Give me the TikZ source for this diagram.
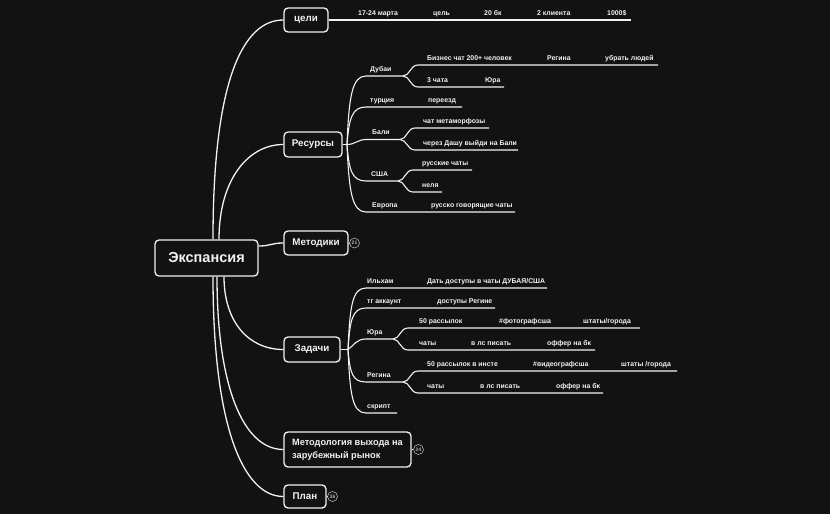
\documentclass[tikz,border=0pt]{standalone}
\usepackage{fontspec}
\setmainfont{Liberation Sans}
\definecolor{bgc}{HTML}{121212}
\definecolor{fg}{HTML}{F2F2F2}
\definecolor{cgray}{HTML}{B0B0B0}
\begin{document}
\begin{tikzpicture}[x=1pt,y=-1pt,
  topic/.style={draw=fg, line width=1.3pt, rounded corners=4pt, fill=bgc, text=fg, inner sep=0pt,
    font=\fontsize{9.8}{12}\selectfont\bfseries},
  lbl/.style={anchor=base west, inner sep=0pt, text=fg, font=\fontsize{6.9}{8}\selectfont\bfseries},
  edge/.style={draw=fg, line width=1.3pt},
  sub/.style={draw=fg, line width=1.1pt},
  badge/.style={circle, draw=cgray, line width=0.6pt, minimum size=10pt, inner sep=0pt, text=cgray,
    font=\fontsize{5}{5}\selectfont\bfseries}]
\fill[bgc] (0,0) rectangle (830,514);
\useasboundingbox (0,0) rectangle (830,514);

% main topics
\node[topic, minimum width=103pt, minimum height=36pt, font=\fontsize{14.5}{16}\selectfont\bfseries] (E) at (206.5,258) {Экспансия};
\node[topic, minimum width=44pt, minimum height=24pt] (G) at (306,20) {цели};
\node[topic, minimum width=58pt, minimum height=25pt] (R) at (313,144.5) {Ресурсы};
\node[topic, minimum width=64pt, minimum height=24pt] (M) at (316,243) {Методики};
\node[topic, minimum width=56pt, minimum height=25pt] (Z) at (312,349.5) {Задачи};
\node[topic, minimum width=127pt, minimum height=35pt, align=left,
  font=\fontsize{9.2}{13}\selectfont\bfseries] (MV) at (347.5,449.5) {Методология выхода на\\зарубежный рынок};
\node[topic, minimum width=42pt, minimum height=23pt] (P) at (305,496.5) {План};

% badges
\node[badge] (b21) at (354.5,243) {21};
\node[badge] (b24) at (418.5,449.5) {24};
\node[badge] (b36) at (332.5,496.5) {36};
\draw[edge, line width=0.8pt] (M.east) -- (b21.west);
\draw[edge, line width=0.8pt] (MV.east) -- (b24.west);
\draw[edge, line width=0.8pt] (P.east) -- (b36.west);

% main connectors
\draw[edge] ([xshift=6.5pt]E.north) .. controls +(0,-160) and +(-40,0) .. (G.west);
\draw[edge] ([xshift=12.5pt]E.north) .. controls +(0,-60) and +(-35,0) .. (R.west);
\draw[edge] ([yshift=12pt]E.east) .. controls +(12,0) and +(-12,0) .. (M.west);
\draw[edge] ([xshift=17.5pt]E.south) .. controls +(0,45) and +(-35,0) .. (Z.west);
\draw[edge] ([xshift=10.5pt]E.south) .. controls +(0,110) and +(-40,0) .. (MV.west);
\draw[edge] ([xshift=6.5pt]E.south) .. controls +(0,150) and +(-40,0) .. (P.west);

% goals line
\coordinate (Gend) at (631,20);
\draw[sub] (G.east) -- (Gend);
\node[lbl] (g1) at (358,15) {17-24 марта};
\node[lbl] (g2) at (433,15) {цель};
\node[lbl] (g3) at (484,15) {20 бк};
\node[lbl] (g4) at (537,15) {2 клиента};
\node[lbl] (g5) at (607,15) {1000\$};

% resources subtree
\coordinate (JR) at (347,144.5);
\draw[edge] (R.east) -- (JR);
\coordinate (dub0) at (366,76);  \coordinate (dub1) at (403,76);
\coordinate (tur0) at (366,107); \coordinate (tur1) at (462,107);
\coordinate (bal0) at (366,139.5); \coordinate (bal1) at (400,139.5);
\coordinate (usa0) at (366,181); \coordinate (usa1) at (398,181);
\coordinate (eur0) at (366,212); \coordinate (eur1) at (515,212);
\draw[sub] (JR) .. controls +(2,-48) and +(-14,0) .. (dub0) -- (dub1);
\draw[sub] (JR) .. controls +(2,-26) and +(-14,0) .. (tur0) -- (tur1);
\draw[sub] (JR) .. controls +(8,0) and +(-8,0) .. (bal0) -- (bal1);
\draw[sub] (JR) .. controls +(2,26) and +(-14,0) .. (usa0) -- (usa1);
\draw[sub] (JR) .. controls +(2,47) and +(-14,0) .. (eur0) -- (eur1);

\coordinate (dubA0) at (418,65); \coordinate (dubA1) at (658,65);
\coordinate (dubB0) at (418,87); \coordinate (dubB1) at (504,87);
\draw[sub] (dub1) .. controls +(7,0) and +(-8,0) .. (dubA0) -- (dubA1);
\draw[sub] (dub1) .. controls +(7,0) and +(-8,0) .. (dubB0) -- (dubB1);
\coordinate (balA0) at (415,128); \coordinate (balA1) at (489,128);
\coordinate (balB0) at (415,150); \coordinate (balB1) at (518,150);
\draw[sub] (bal1) .. controls +(7,0) and +(-8,0) .. (balA0) -- (balA1);
\draw[sub] (bal1) .. controls +(7,0) and +(-8,0) .. (balB0) -- (balB1);
\coordinate (usaA0) at (413,170); \coordinate (usaA1) at (472,170);
\coordinate (usaB0) at (413,192); \coordinate (usaB1) at (442,192);
\draw[sub] (usa1) .. controls +(7,0) and +(-8,0) .. (usaA0) -- (usaA1);
\draw[sub] (usa1) .. controls +(7,0) and +(-8,0) .. (usaB0) -- (usaB1);

\node[lbl] (l_dub) at (370,71) {Дубаи};
\node[lbl] (l_biz) at (427,60) {Бизнес чат 200+ человек};
\node[lbl] (l_reg1) at (547,60) {Регина};
\node[lbl] (l_ubr) at (605,60) {убрать людей};
\node[lbl] (l_3ch) at (427,82) {3 чата};
\node[lbl] (l_yur1) at (485,82) {Юра};
\node[lbl] (l_tur) at (370,102) {турция};
\node[lbl] (l_per) at (428,102) {переезд};
\node[lbl] (l_bal) at (372,134.5) {Бали};
\node[lbl] (l_met) at (423,123) {чат метаморфозы};
\node[lbl] (l_dash) at (423,145) {через Дашу выйди на Бали};
\node[lbl] (l_usa) at (371,176) {США};
\node[lbl] (l_rus) at (422,165) {русские чаты};
\node[lbl] (l_nel) at (422,187) {неля};
\node[lbl] (l_eur) at (372,207) {Европа};
\node[lbl] (l_rgc) at (431,207) {русско говорящие чаты};

% tasks subtree
\coordinate (JZ) at (348,349.5);
\draw[edge] (Z.east) -- (JZ);
\coordinate (ilh0) at (366,288); \coordinate (ilh1) at (547,288);
\coordinate (tg0) at (366,308);  \coordinate (tg1) at (495,308);
\coordinate (yu0) at (366,339);  \coordinate (yu1) at (393,339);
\coordinate (rg0) at (366,382);  \coordinate (rg1) at (403,382);
\coordinate (sk0) at (366,413);  \coordinate (sk1) at (397,413);
\draw[sub] (JZ) .. controls +(2,-43) and +(-14,0) .. (ilh0) -- (ilh1);
\draw[sub] (JZ) .. controls +(2,-29) and +(-14,0) .. (tg0) -- (tg1);
\draw[sub] (JZ) .. controls +(6,-4) and +(-10,0) .. (yu0) -- (yu1);
\draw[sub] (JZ) .. controls +(2,23) and +(-14,0) .. (rg0) -- (rg1);
\draw[sub] (JZ) .. controls +(2,44) and +(-14,0) .. (sk0) -- (sk1);

\coordinate (yuA0) at (408,328); \coordinate (yuA1) at (640,328);
\coordinate (yuB0) at (408,350); \coordinate (yuB1) at (595,350);
\draw[sub] (yu1) .. controls +(7,0) and +(-8,0) .. (yuA0) -- (yuA1);
\draw[sub] (yu1) .. controls +(7,0) and +(-8,0) .. (yuB0) -- (yuB1);
\coordinate (rgA0) at (418,371); \coordinate (rgA1) at (677,371);
\coordinate (rgB0) at (418,393); \coordinate (rgB1) at (603,393);
\draw[sub] (rg1) .. controls +(7,0) and +(-8,0) .. (rgA0) -- (rgA1);
\draw[sub] (rg1) .. controls +(7,0) and +(-8,0) .. (rgB0) -- (rgB1);

\node[lbl] (t_ilh) at (367,283) {Ильхам};
\node[lbl] (t_dat) at (427,283) {Дать доступы в чаты ДУБАЯ/США};
\node[lbl] (t_tg) at (367,303) {тг аккаунт};
\node[lbl] (t_dos) at (437,303) {доступы Регине};
\node[lbl] (t_yu) at (367,334) {Юра};
\node[lbl] (t_50a) at (419,323) {50 рассылок};
\node[lbl] (t_foto) at (499,323) {\#фотографсша};
\node[lbl] (t_sht1) at (583,323) {штаты/города};
\node[lbl] (t_ch1) at (419,345) {чаты};
\node[lbl] (t_vls1) at (471,345) {в лс писать};
\node[lbl] (t_of1) at (547,345) {оффер на бк};
\node[lbl] (t_rg) at (367,377) {Регина};
\node[lbl] (t_50b) at (427,366) {50 рассылок в инсте};
\node[lbl] (t_vid) at (533,366) {\#видеографсша};
\node[lbl] (t_sht2) at (621,366) {штаты /города};
\node[lbl] (t_ch2) at (427,388) {чаты};
\node[lbl] (t_vls2) at (480,388) {в лс писать};
\node[lbl] (t_of2) at (556,388) {оффер на бк};
\node[lbl] (t_sk) at (367,408) {скрипт};
\end{tikzpicture}
\end{document}
